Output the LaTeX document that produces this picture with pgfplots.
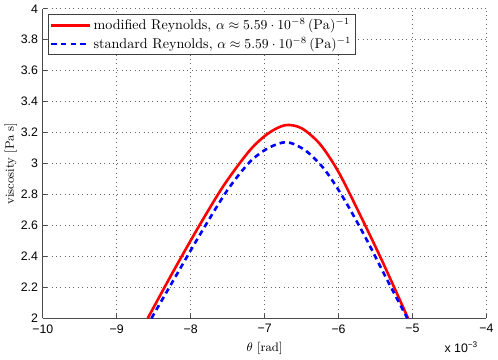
\documentclass[border=0pt]{standalone}
\usepackage{fontspec}
\usepackage{pgfplots}
\pgfplotsset{compat=1.18}
\newfontfamily\ticksf{Liberation Sans}

\begin{document}
\begin{tikzpicture}
\begin{axis}[
    scale only axis,
    width=324pt,
    height=226pt,
    xmin=-10, xmax=-4,
    ymin=2, ymax=4,
    axis x line*=bottom,
    axis y line*=left,
    axis line style={black!70, line width=0.6pt},
    tick align=inside,
    tick style={black!70, line width=0.5pt},
    major tick length=3pt,
    xtick={-10,-9,-8,-7,-6,-5,-4},
    xticklabels={−10,−9,−8,−7,−6,−5,−4},
    ytick={2,2.2,2.4,2.6,2.8,3,3.2,3.4,3.6,3.8,4},
    yticklabels={2,2.2,2.4,2.6,2.8,3,3.2,3.4,3.6,3.8,4},
    tick label style={font=\ticksf\small},
    xticklabel style={yshift=-1pt},
    grid=major,
    major grid style={black!60, dash pattern=on 0.6pt off 2.6pt, line width=0.5pt},
    xlabel={$\theta$ [rad]},
    ylabel={viscosity [Pa s]},
    label style={font=\small},
    ylabel style={yshift=-4pt},
    legend style={
        at={(rel axis cs:0,1)}, anchor=north west,
        xshift=4pt, yshift=-4pt,
        draw=black!75, line width=0.6pt,
        font=\fontsize{10.3}{11}\selectfont, inner sep=1pt,
        row sep=0pt,
        legend cell align=left
    },
    legend image code/.code={\draw[#1] (0cm,0cm) -- (0.98cm,0cm);},
    clip mode=individual,
]
\addplot[red, line width=1.9pt, smooth] coordinates {
    (-8.58,2.0) (-8.25,2.29) (-7.9,2.585) (-7.55,2.86) (-7.2,3.085)
    (-6.95,3.195) (-6.72,3.248) (-6.5,3.228) (-6.25,3.125) (-6.0,2.945)
    (-5.7,2.66) (-5.4,2.36) (-5.06,2.0)
};
\addlegendentry{modified Reynolds, $\alpha\approx 5.59\cdot10^{-8}\,(\mathrm{Pa})^{-1}$}
\addplot[blue, line width=1.9pt, dash pattern=on 4pt off 3pt, smooth] coordinates {
    (-8.53,2.0) (-8.2,2.273) (-7.85,2.56) (-7.5,2.83) (-7.2,3.01)
    (-6.95,3.10) (-6.7,3.138) (-6.45,3.085) (-6.2,2.968) (-5.95,2.79)
    (-5.65,2.535) (-5.35,2.255) (-5.07,2.0)
};
\addlegendentry{standard Reynolds, $\alpha\approx 5.59\cdot10^{-8}\,(\mathrm{Pa})^{-1}$}
\node[anchor=north east, font=\ticksf\small, inner sep=0pt] at ([xshift=-6pt,yshift=-17pt]rel axis cs:1,0) {x 10\textsuperscript{−3}};
\end{axis}
\end{tikzpicture}
\end{document}
